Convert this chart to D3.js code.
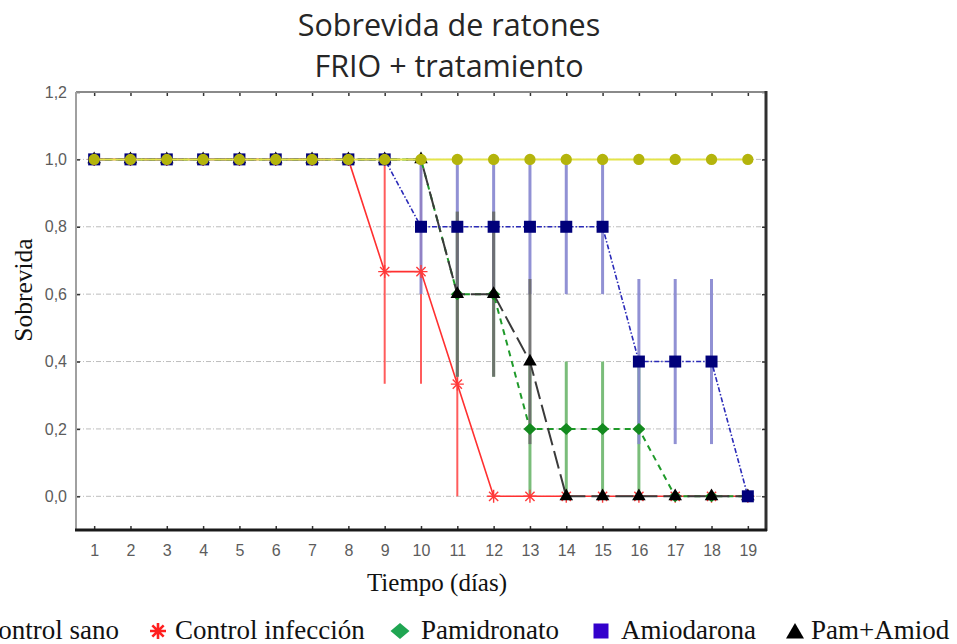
<!DOCTYPE html>
<html>
<head>
<meta charset="utf-8">
<script src="https://cdn.jsdelivr.net/npm/d3@7"></script>
<style>
  html, body { margin: 0; padding: 0; background: #fff; overflow: hidden; }
  svg { display: block; }
</style>
</head>
<body>
<svg id="chart" width="957" height="644"></svg>
<script>
// ---- data ----
const days = [1, 2, 3, 4, 5, 6, 7, 8, 9, 10, 11, 12, 13, 14, 15, 16, 17, 18, 19];
const yTicks = [0, 0.2, 0.4, 0.6, 0.8, 1.0, 1.2];
const yTickLabels = ["0,0", "0,2", "0,4", "0,6", "0,8", "1,0", "1,2"];

const controlSano      = [1, 1, 1, 1, 1, 1, 1, 1, 1, 1, 1, 1, 1, 1, 1, 1, 1, 1, 1];
const controlInfeccion = [1, 1, 1, 1, 1, 1, 1, 1, 0.667, 0.667, 0.333, 0, 0, 0, 0, 0, 0, 0, 0];
const controlInfErr    = [0, 0, 0, 0, 0, 0, 0, 0, 0.333, 0.333, 0.333, 0, 0, 0, 0, 0, 0, 0, 0];
const pamidronato      = [1, 1, 1, 1, 1, 1, 1, 1, 1, 1, 0.6, 0.6, 0.2, 0.2, 0.2, 0.2, 0, 0, 0];
const pamidronatoErr   = [0, 0, 0, 0, 0, 0, 0, 0, 0, 0, 0.245, 0.245, 0.2, 0.2, 0.2, 0.2, 0, 0, 0];
const amiodarona       = [1, 1, 1, 1, 1, 1, 1, 1, 1, 0.8, 0.8, 0.8, 0.8, 0.8, 0.8, 0.4, 0.4, 0.4, 0];
const amiodaronaErr    = [0, 0, 0, 0, 0, 0, 0, 0, 0, 0.2, 0.2, 0.2, 0.2, 0.2, 0.2, 0.245, 0.245, 0.245, 0];
const pamAmiod         = [1, 1, 1, 1, 1, 1, 1, 1, 1, 1, 0.6, 0.6, 0.4, 0, 0, 0, 0, 0, 0];
const pamAmiodErr      = [0, 0, 0, 0, 0, 0, 0, 0, 0, 0, 0.245, 0.245, 0.245, 0, 0, 0, 0, 0, 0];

const seriesNames = ["Control sano", "Control infección", "Pamidronato", "Amiodarona", "Pam+Amiod"];

// ---- layout ----
const svg = d3.select("#chart");
const W = 957, H = 644;
const plot = { left: 76, right: 766, top: 92, bottom: 530 };

svg.append("rect").attr("width", W).attr("height", H).attr("fill", "#fff");

const x = d3.scaleLinear().domain([0.5, 19.5]).range([plot.left, plot.right]);
const y = d3.scaleLinear().domain([-0.1, 1.2]).range([plot.bottom, plot.top]);

// ---- title ----
const title = svg.append("g").attr("font-family", "'Open Sans', sans-serif")
  .attr("font-size", 30.5).attr("fill", "#262626").attr("text-anchor", "middle");
title.append("text").attr("x", 449).attr("y", 36).text("Sobrevida de ratones");
title.append("text").attr("x", 449).attr("y", 77).text("FRIO + tratamiento");

// ---- grid ----
svg.append("g").selectAll("line")
  .data(yTicks.filter(v => v < 1.2))
  .join("line")
  .attr("x1", plot.left).attr("x2", plot.right)
  .attr("y1", d => y(d)).attr("y2", d => y(d))
  .attr("stroke", "#bdbdbd").attr("stroke-width", 1)
  .attr("stroke-dasharray", "5,2,1,2");

// ---- axes ----
const labelFont = "'Liberation Sans', Arial, sans-serif";
const styleAxis = g => {
  g.select(".domain").remove();
  g.selectAll(".tick line").attr("stroke", "#333").attr("stroke-width", 1.5);
  g.selectAll(".tick text").attr("fill", "#5c5c5c").attr("font-family", labelFont).attr("font-size", 16);
};

svg.append("g").attr("transform", `translate(0,${plot.bottom})`)
  .call(d3.axisBottom(x).tickValues(days).tickFormat(d3.format("d")).tickSize(-4).tickPadding(15))
  .call(styleAxis);
svg.append("g").attr("transform", `translate(0,${plot.top})`)
  .call(d3.axisTop(x).tickValues(days).tickFormat("").tickSize(-4))
  .call(styleAxis);
svg.append("g").attr("transform", `translate(${plot.left},0)`)
  .call(d3.axisLeft(y).tickValues(yTicks).tickFormat((d, i) => yTickLabels[i]).tickSize(-4).tickPadding(9))
  .call(styleAxis);
svg.append("g").attr("transform", `translate(${plot.right},0)`)
  .call(d3.axisRight(y).tickValues(yTicks).tickFormat("").tickSize(-4))
  .call(styleAxis);

// frame: light top/left, dark right/bottom
svg.append("line").attr("x1", plot.left).attr("x2", plot.right).attr("y1", plot.top).attr("y2", plot.top)
  .attr("stroke", "#8a8a8a").attr("stroke-width", 2);
svg.append("line").attr("x1", plot.left).attr("x2", plot.left).attr("y1", plot.top).attr("y2", plot.bottom)
  .attr("stroke", "#a0a0a0").attr("stroke-width", 2);
svg.append("line").attr("x1", plot.right).attr("x2", plot.right).attr("y1", plot.top - 1).attr("y2", plot.bottom + 1)
  .attr("stroke", "#303030").attr("stroke-width", 3);
svg.append("line").attr("x1", plot.left - 1).attr("x2", plot.right + 1).attr("y1", plot.bottom).attr("y2", plot.bottom)
  .attr("stroke", "#1a1a1a").attr("stroke-width", 3);

// axis titles
svg.append("text").attr("transform", "translate(32,290) rotate(-90)")
  .attr("text-anchor", "middle").attr("font-family", "'Liberation Serif', 'Times New Roman', serif")
  .attr("font-size", 25.5).attr("fill", "#111").text("Sobrevida");
svg.append("text").attr("x", 437).attr("y", 591)
  .attr("text-anchor", "middle").attr("font-family", "'Liberation Serif', 'Times New Roman', serif")
  .attr("font-size", 25).attr("fill", "#111").text("Tiempo (días)");

// ---- symbols ----
function asteriskPath(r) {
  const p = d3.path();
  p.moveTo(0, -r); p.lineTo(0, r);
  p.moveTo(-r, 0); p.lineTo(r, 0);
  const k = r * Math.SQRT1_2;
  p.moveTo(-k, -k); p.lineTo(k, k);
  p.moveTo(-k, k); p.lineTo(k, -k);
  return p.toString();
}
function rhombusPath(hw, hh) {
  const p = d3.path();
  p.moveTo(0, -hh); p.lineTo(hw, 0); p.lineTo(0, hh); p.lineTo(-hw, 0); p.closePath();
  return p.toString();
}
function trianglePath(hw, top, base) {
  const p = d3.path();
  p.moveTo(0, -top); p.lineTo(hw, base); p.lineTo(-hw, base); p.closePath();
  return p.toString();
}

const series = {
  sano:   { values: controlSano, err: null, line: "#e4e44a", lineW: 2, dash: null,
            marker: { type: "circle", path: d3.symbol(d3.symbolCircle, 100)(), fill: "#b4b40c" } },
  inf:    { values: controlInfeccion, err: controlInfErr, bar: "#ff4a4a", line: "#ff3030", lineW: 1.6, dash: null,
            marker: { type: "asterisk", path: asteriskPath(6.5), stroke: "#ff3a3a" } },
  pam:    { values: pamidronato, err: pamidronatoErr, bar: "#6cb66c", line: "#1f9a2a", lineW: 2, dash: "6,5",
            marker: { type: "rhombus", path: rhombusPath(6.5, 6), fill: "#138a1e" } },
  amio:   { values: amiodarona, err: amiodaronaErr, bar: "#8585cf", line: "#2a2ab8", lineW: 1.6, dash: "5,2,1.5,2",
            marker: { type: "square", path: d3.symbol(d3.symbolSquare, 144)(), fill: "#00007a" } },
  combo:  { values: pamAmiod, err: pamAmiodErr, bar: "#6a6a6a", line: "#3a3a3a", lineW: 2, dash: "18,6",
            marker: { type: "triangle", path: d3.symbol(d3.symbolTriangle, 80)(), fill: "#000" } }
};

// ---- error bars (mean ± error) ----
const barOrder = ["inf", "pam", "amio", "combo"];
const barLayer = svg.append("g");
barOrder.forEach(key => {
  const s = series[key];
  const pts = days.map((d, i) => ({ d, v: s.values[i], e: s.err[i] })).filter(p => p.e > 0);
  barLayer.append("g").selectAll("line").data(pts).join("line")
    .attr("x1", p => x(p.d)).attr("x2", p => x(p.d))
    .attr("y1", p => y(Math.min(1, p.v + p.e))).attr("y2", p => y(Math.max(0, p.v - p.e)))
    .attr("stroke", s.bar).attr("stroke-width", key === "inf" ? 2 : 3)
    .attr("stroke-opacity", 0.9);
});

// ---- lines and markers ----
const drawOrder = ["inf", "pam", "combo", "amio", "sano"];
const lineGen = d3.line().x(p => x(p.d)).y(p => y(p.v));
drawOrder.forEach(key => {
  const s = series[key];
  const pts = days.map((d, i) => ({ d, v: s.values[i] }));
  const g = svg.append("g");
  g.append("path").datum(pts).attr("d", lineGen)
    .attr("fill", "none").attr("stroke", s.line).attr("stroke-width", s.lineW)
    .attr("stroke-dasharray", s.dash);
  const m = g.append("g").selectAll("path").data(pts).join("path")
    .attr("transform", p => `translate(${x(p.d)},${y(p.v)})`)
    .attr("d", s.marker.path);
  if (s.marker.type === "asterisk") {
    m.attr("fill", "none").attr("stroke", s.marker.stroke).attr("stroke-width", 1.4);
  } else {
    m.attr("fill", s.marker.fill);
  }
});

// ---- legend ----
const legFont = "'Liberation Serif', 'Times New Roman', serif";
const legFs = 27, legY = 639, legMid = 631;
const legend = svg.append("g").attr("font-family", legFont).attr("font-size", legFs).attr("fill", "#111");

const legMarkers = [
  g => g.append("path").attr("d", d3.symbol(d3.symbolCircle, 160)()).attr("fill", "#b4b40c"),
  g => g.append("path").attr("d", asteriskPath(8)).attr("fill", "none").attr("stroke", "#ff2020").attr("stroke-width", 2.6),
  g => g.append("path").attr("d", rhombusPath(9.5, 8)).attr("fill", "#1fa552"),
  g => g.append("path").attr("d", d3.symbol(d3.symbolSquare, 225)()).attr("fill", "#3300cc"),
  g => g.append("path").attr("d", trianglePath(9, 8, 7.5)).attr("fill", "#000")
];

// legend slots: marker centre and text start for each entry
const legSlots = [
  { marker: null, textEnd: 119 },
  { marker: 158, text: 175 },
  { marker: 400, text: 421 },
  { marker: 601, text: 621 },
  { marker: 795, text: 811 }
];
seriesNames.forEach((name, i) => {
  const slot = legSlots[i];
  const t = legend.append("text").attr("y", legY).text(name);
  let textStart = slot.text;
  if (slot.textEnd != null) {
    textStart = slot.textEnd - t.node().getComputedTextLength();
  }
  t.attr("x", textStart);
  const mx = slot.marker != null ? slot.marker : textStart - 18;
  legMarkers[i](legend.append("g").attr("transform", `translate(${mx},${legMid})`));
});
</script>
</body>
</html>
